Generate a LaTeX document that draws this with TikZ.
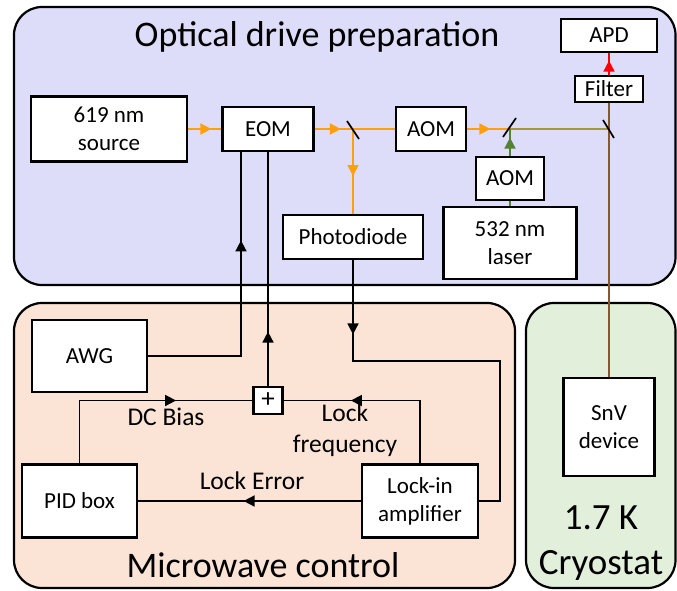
\documentclass[tikz,border=0pt]{standalone}
\usepackage{fontspec}
\setmainfont{Carlito}
\usetikzlibrary{arrows.meta,calc,decorations.markings}
\definecolor{OptFill}{HTML}{DDDCF9}
\definecolor{MwFill}{HTML}{FBE3D6}
\definecolor{CryoFill}{HTML}{E2EFDA}
\definecolor{BeamOrange}{HTML}{FFA00A}
\definecolor{BeamGreen}{HTML}{548235}
\definecolor{BeamMix}{HTML}{A09A38}
\definecolor{BeamBrown}{HTML}{8E5628}
\definecolor{BeamRed}{HTML}{FF0000}

\begin{document}
\begin{tikzpicture}[x=1pt, y=-1pt,
  panel/.style = {draw=black, line width=2.2pt, rounded corners=28pt},
  box/.style   = {draw=black, fill=white, line width=2.8pt, inner sep=0pt,
                  align=center, font=\fontsize{23}{28}\selectfont},
  title/.style = {font=\fontsize{36}{44}\selectfont, align=center},
  lbl/.style   = {font=\fontsize{25.5}{31}\selectfont, align=center},
  beam/.style  = {color=BeamOrange, line width=1.7pt},
  gbeam/.style = {color=BeamGreen, line width=1.7pt},
  sig/.style   = {color=black, line width=1.7pt},
  split/.style = {draw=black, line width=1.7pt},
  arrat/.style = {postaction={decorate}, decoration={markings,
                  mark=at position #1 with {\arrow{Triangle[length=11pt,width=11pt]}}}}
]
  \useasboundingbox (0,0) rectangle (677,591);

  % panels
  \draw[panel, fill=OptFill]  (14,7)   rectangle (675.5,285);
  \draw[panel, fill=MwFill]   (14,303) rectangle (515,588);
  \draw[panel, fill=CryoFill] (526,303) rectangle (675.5,588);

  \node[title, anchor=base] (ttlopt) at (317,47) {Optical drive preparation};
  \node[title, anchor=base] (ttlmw) at (263,577) {Microwave control};
  \node[title, font=\fontsize{37}{45}\selectfont] (ttlcryo) at (601,543) {1.7 K\\Cryostat};

  % optical boxes
  \node[box, minimum width=91,  minimum height=44] (eom)    at (268,129) {EOM};
  \node[box, minimum width=156, minimum height=65] (src)    at (109,129) {619 nm\\source};
  \node[box, minimum width=70,  minimum height=44] (aom1)   at (431,129) {AOM};
  \node[box, minimum width=140, minimum height=44] (pd)     at (353,237) {Photodiode};
  \node[box, minimum width=68,  minimum height=43] (aom2)   at (510,178.5) {AOM};
  \node[box, minimum width=133, minimum height=72] (laser)  at (510,243) {532 nm\\laser};
  \node[box, minimum width=68,  minimum height=26] (filter) at (609,89) {Filter};
  \node[box, minimum width=96,  minimum height=33] (apd)    at (609,35.5) {APD};

  % microwave boxes
  \node[box, minimum width=115, minimum height=72] (awg)    at (89.5,356) {AWG};
  \node[box, minimum width=115, minimum height=73] (pid)    at (79.5,501) {PID box};
  \node[box, minimum width=116, minimum height=73] (lockin) at (420,501) {Lock-in\\amplifier};
  \node[box, minimum width=29,  minimum height=27,
        font=\fontsize{27}{27}\selectfont] (plus)           at (268,400.5) {+};
  \node[box, minimum width=91,  minimum height=98] (snv)    at (609,427) {SnV\\device};

  % splitters
  \coordinate (s1) at (353,129);
  \coordinate (s2) at (510,129);
  \coordinate (s3) at (609,129);
  \coordinate (pdturn) at (500,361);

  % beams
  \draw[beam, arrat=23pt] (src) -- (eom);
  \draw[beam, arrat=26pt] (eom) -- (s1);
  \draw[beam] (s1) -- (aom1);
  \draw[beam, arrat=23pt] (aom1) -- (s2);
  \draw[beam, arrat=47pt] (s1) -- (pd);
  \draw[color=BeamMix, line width=1.7pt] (s2) -- (s3);
  \draw[gbeam] (laser) -- (aom2);
  \draw[gbeam, arrat=18pt] (aom2) -- (s2);
  \draw[color=BeamBrown, line width=1.7pt] (snv) -- (filter);
  \draw[color=BeamRed, line width=1.7pt, arrat=14pt] (filter) -- (apd);

  \draw[split] ($(s1)+(-6,-8)$) -- ($(s1)+(6,10)$);
  \draw[split] ($(s2)+(6,-11)$) -- ($(s2)+(-7,8)$);
  \draw[split] ($(s3)+(-6,-9)$) -- ($(s3)+(5,9)$);

  % electrical signals
  \draw[sig, arrat=-88pt] (awg.east) -| ([xshift=-27pt]eom.south);
  \draw[sig, arrat=54pt] (plus.north) -- (plus.north |- eom.south);
  \draw[sig, arrat=-76pt] (pid.north) |- (plus.west);
  \draw[sig, arrat=-67pt] (lockin.north) |- (plus.east);
  \draw[sig, arrat=117pt] (lockin) -- (pid);
  \draw[sig, arrat=74pt] (pd.south) |- (pdturn) |- (lockin.east);

  \node[lbl, anchor=base] (dcb) at (166,425) {DC Bias};
  \node[lbl] (lkf) at (345,430) {Lock\\frequency};
  \node[lbl, anchor=base] (lke) at (252,489) {Lock Error};
\end{tikzpicture}
\end{document}
